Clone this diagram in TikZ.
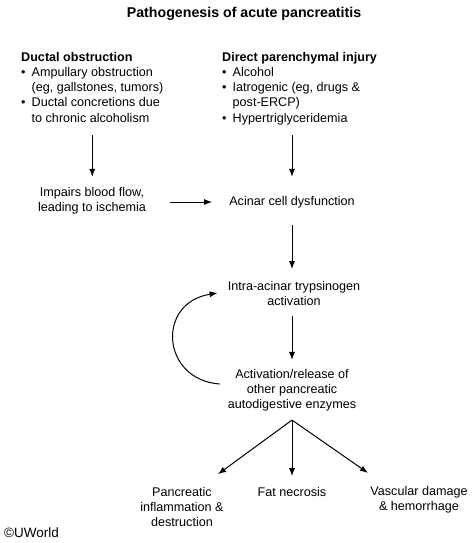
\documentclass[tikz,border=0pt]{standalone}
\usepackage{fontspec}
\setmainfont{Liberation Sans}
\usetikzlibrary{arrows.meta}

\tikzset{
  txt/.style={align=center, inner sep=0pt, font=\fontsize{12.6}{15}\selectfont},
  cause/.style={align=left, inner sep=0pt, anchor=north west, font=\fontsize{12.6}{15.2}\selectfont},
  arr/.style={-{Latex[length=8pt,width=6pt]}, line width=1pt},
}
\newcommand{\bul}{\makebox[10.5pt][l]{\textbullet}}
\newcommand{\ind}{\hspace*{10.5pt}}

\begin{document}
\begin{tikzpicture}[x=1pt,y=-1pt]
\useasboundingbox (0,0) rectangle (476,543);
\node[inner sep=0pt, font=\bfseries\fontsize{14.2}{16}\selectfont] (title) at (244,14) {Pathogenesis of acute pancreatitis};

% two kinds of cause
\node[cause] (duct) at (21,52) {\textbf{Ductal obstruction}\\ \bul Ampullary obstruction\\ \ind (eg, gallstones, tumors)\\ \bul Ductal concretions due\\ \ind to chronic alcoholism};
\node[cause] (paren) at (222,52) {\textbf{Direct parenchymal injury}\\ \bul Alcohol\\ \bul Iatrogenic (eg, drugs \&\\ \ind post-ERCP)\\ \bul Hypertriglyceridemia};

% cascade
\node[txt] (isch) at (92,200.5) {Impairs blood flow,\\leading to ischemia};
\node[txt] (acinar) at (292,202) {Acinar cell dysfunction};
\node[txt] (tryp) at (294,293) {Intra-acinar trypsinogen\\activation};
\node[txt] (act) at (292,390) {Activation/release of\\other pancreatic\\autodigestive enzymes};

% outcomes
\node[txt] (infl) at (182,507) {Pancreatic\\inflammation \&\\destruction};
\node[txt] (fat) at (292,492) {Fat necrosis};
\node[txt] (vasc) at (419,499.5) {Vascular damage\\\& hemorrhage};

\node[inner sep=0pt, anchor=west, font=\fontsize{13.5}{15}\selectfont] (uw) at (4,533) {©UWorld};

\draw[arr, shorten <=12.5pt, shorten >=10pt] (duct.south) -- (duct.south |- isch.north);
\draw[arr, shorten <=10pt, shorten >=19pt] (paren.south -| acinar.north) -- (acinar.north);
\draw[arr, shorten <=24pt, shorten >=17pt] (isch.east |- acinar.west) -- (acinar.west);
\draw[arr, shorten <=17pt, shorten >=11.5pt] (acinar.south) -- (acinar.south |- tryp.north);
\draw[arr, shorten <=10.5pt, shorten >=9pt] (tryp.south -| act.north) -- (act.north);
\draw[arr] ([xshift=-8pt,yshift=6pt]act.west) .. controls +(-58,-4) and +(-62,10) .. ([xshift=-10pt]tryp.west);

\coordinate (fork) at ([yshift=-9pt]act.south);
\draw[arr] (fork) -- ([xshift=36pt,yshift=13pt]infl.north);
\draw[arr, shorten >=11pt] (fork) -- (fat.north);
\draw[arr] (fork) -- ([xshift=-51pt,yshift=13pt]vasc.north);
\end{tikzpicture}
\end{document}
